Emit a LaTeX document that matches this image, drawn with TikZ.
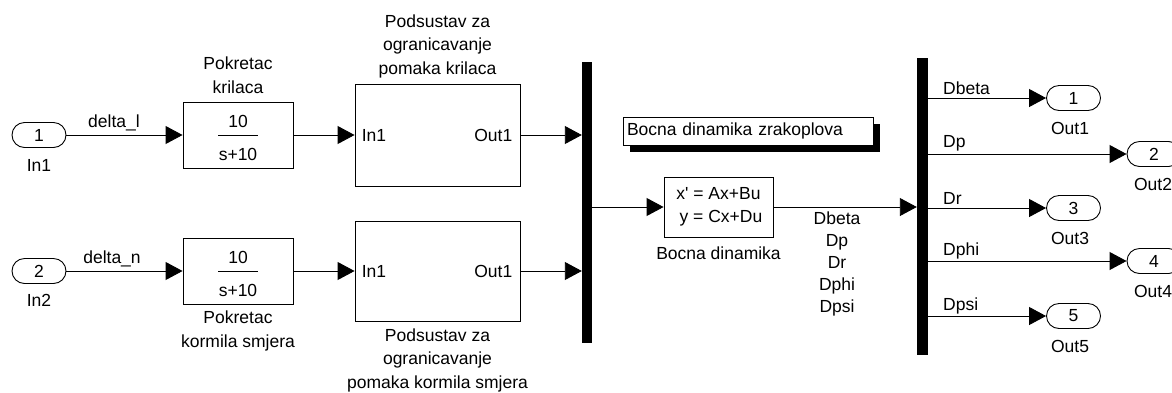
\documentclass[tikz,border=0pt]{standalone}
\usepackage{fontspec}
\setmainfont{Liberation Sans}
\usetikzlibrary{arrows.meta}
\begin{document}
\begin{tikzpicture}[x=1pt,y=-1pt,
  font=\fontsize{17.5}{23.5}\selectfont,
  port/.style={draw,rounded corners=12.5pt,minimum width=54pt,minimum height=25pt,inner sep=0pt,line width=0.9pt},
  blk/.style={draw,line width=0.9pt,inner sep=0pt},
  bar/.style={fill=black,inner sep=0pt,minimum width=10pt},
  sig/.style={line width=0.9pt,-{Triangle[length=17pt,width=18pt]}},
  lbl/.style={inner sep=0pt,align=center},
]
\useasboundingbox (0,0) rectangle (1172,392);

% inputs
\node[port] (in1) at (39,135) {1};
\node[lbl] (in1l) at (39,165) {In1};
\node[port] (in2) at (39,271) {2};
\node[lbl] (in2l) at (39,300) {In2};

% actuators
\node[blk,minimum width=110pt,minimum height=66pt] (pk1) at (238,135) {};
\node[lbl] (pk1n) at (238,121) {10};
\node[lbl] (pk1d) at (238,154) {s+10};
\draw[line width=0.9pt] ([xshift=-20pt]pk1.center) -- ([xshift=20pt]pk1.center);
\node[lbl] (pk1t) at (238,75) {Pokretac\\krilaca};

\node[blk,minimum width=110pt,minimum height=66pt] (pk2) at (238,271) {};
\node[lbl] (pk2n) at (238,257) {10};
\node[lbl] (pk2d) at (238,290) {s+10};
\draw[line width=0.9pt] ([xshift=-20pt]pk2.center) -- ([xshift=20pt]pk2.center);
\node[lbl] (pk2t) at (238,331) {Pokretac\\kormila smjera};

% subsystems
\node[blk,minimum width=165pt,minimum height=102pt] (sub1) at (437.5,135) {};
\node[lbl,anchor=west] (sub1i) at ([xshift=7pt]sub1.west) {In1};
\node[lbl,anchor=east] (sub1o) at ([xshift=-8pt]sub1.east) {Out1};
\node[lbl] (sub1t) at (437.5,46) {Podsustav za\\ogranicavanje\\pomaka krilaca};

\node[blk,minimum width=165pt,minimum height=100pt] (sub2) at (437.5,271) {};
\node[lbl,anchor=west] (sub2i) at ([xshift=7pt]sub2.west) {In1};
\node[lbl,anchor=east] (sub2o) at ([xshift=-8pt]sub2.east) {Out1};
\node[lbl] (sub2t) at (437.5,360) {Podsustav za\\ogranicavanje\\pomaka kormila smjera};

% mux
\node[bar,minimum height=281pt] (mux) at (587,202.5) {};

% state space block
\node[blk,minimum width=109pt,minimum height=60pt] (bd) at (718.5,207) {};
\node[lbl] (bdt) at (718.5,207) {x\textquotesingle{} = Ax+Bu\\\ y = Cx+Du};
\node[lbl] (bdl) at (718.5,253) {Bocna dinamika};

% annotation
\fill (630,124) rectangle (880,152);
\node[draw,fill=white,line width=0.9pt,minimum width=250pt,minimum height=28pt,inner sep=0pt,text width=242pt,align=left] (note) at (748,131) {Bocna dinamika zrakoplova};

% demux
\node[bar,minimum width=11pt,minimum height=297pt] (demux) at (922.5,206.5) {};

% outputs
\node[port] (out1) at (1073.5,98) {1};
\node[lbl] (out1l) at (1070,128) {Out1};
\node[port] (out2) at (1154,154) {2};
\node[lbl] (out2l) at (1153,184) {Out2};
\node[port] (out3) at (1073.5,208) {3};
\node[lbl] (out3l) at (1070,238) {Out3};
\node[port] (out4) at (1154,261) {4};
\node[lbl] (out4l) at (1153,291) {Out4};
\node[port] (out5) at (1073.5,316) {5};
\node[lbl] (out5l) at (1070,346) {Out5};

% connectors
\draw[sig] (in1.east) -- (pk1.west);
\node[lbl] (d1) at (114,123) {delta\_l};
\draw[sig] (in2.east) -- (pk2.west);
\node[lbl] (d2) at (112,259) {delta\_n};
\draw[sig] (pk1.east) -- (sub1.west);
\draw[sig] (pk2.east) -- (sub2.west);
\draw[sig] (sub1.east) -- (sub1.east -| mux.west);
\draw[sig] (sub2.east) -- (sub2.east -| mux.west);
\draw[sig] (mux.east |- bd.west) -- (bd.west);
\draw[sig] (bd.east) -- (bd.east -| demux.west);
\node[lbl,font=\fontsize{17.5}{22}\selectfont] (sigs) at (837,264) {Dbeta\\Dp\\Dr\\Dphi\\Dpsi};

\draw[sig] (demux.east |- out1) -- (out1.west);
\draw[sig] (demux.east |- out2) -- (out2.west);
\draw[sig] (demux.east |- out3) -- (out3.west);
\draw[sig] (demux.east |- out4) -- (out4.west);
\draw[sig] (demux.east |- out5) -- (out5.west);
\node[lbl,anchor=west] (l1) at (943,88) {Dbeta};
\node[lbl,anchor=west] (l2) at (943,143) {Dp};
\node[lbl,anchor=west] (l3) at (943,198) {Dr};
\node[lbl,anchor=west] (l4) at (943,251) {Dphi};
\node[lbl,anchor=west] (l5) at (943,306) {Dpsi};
\end{tikzpicture}
\end{document}
